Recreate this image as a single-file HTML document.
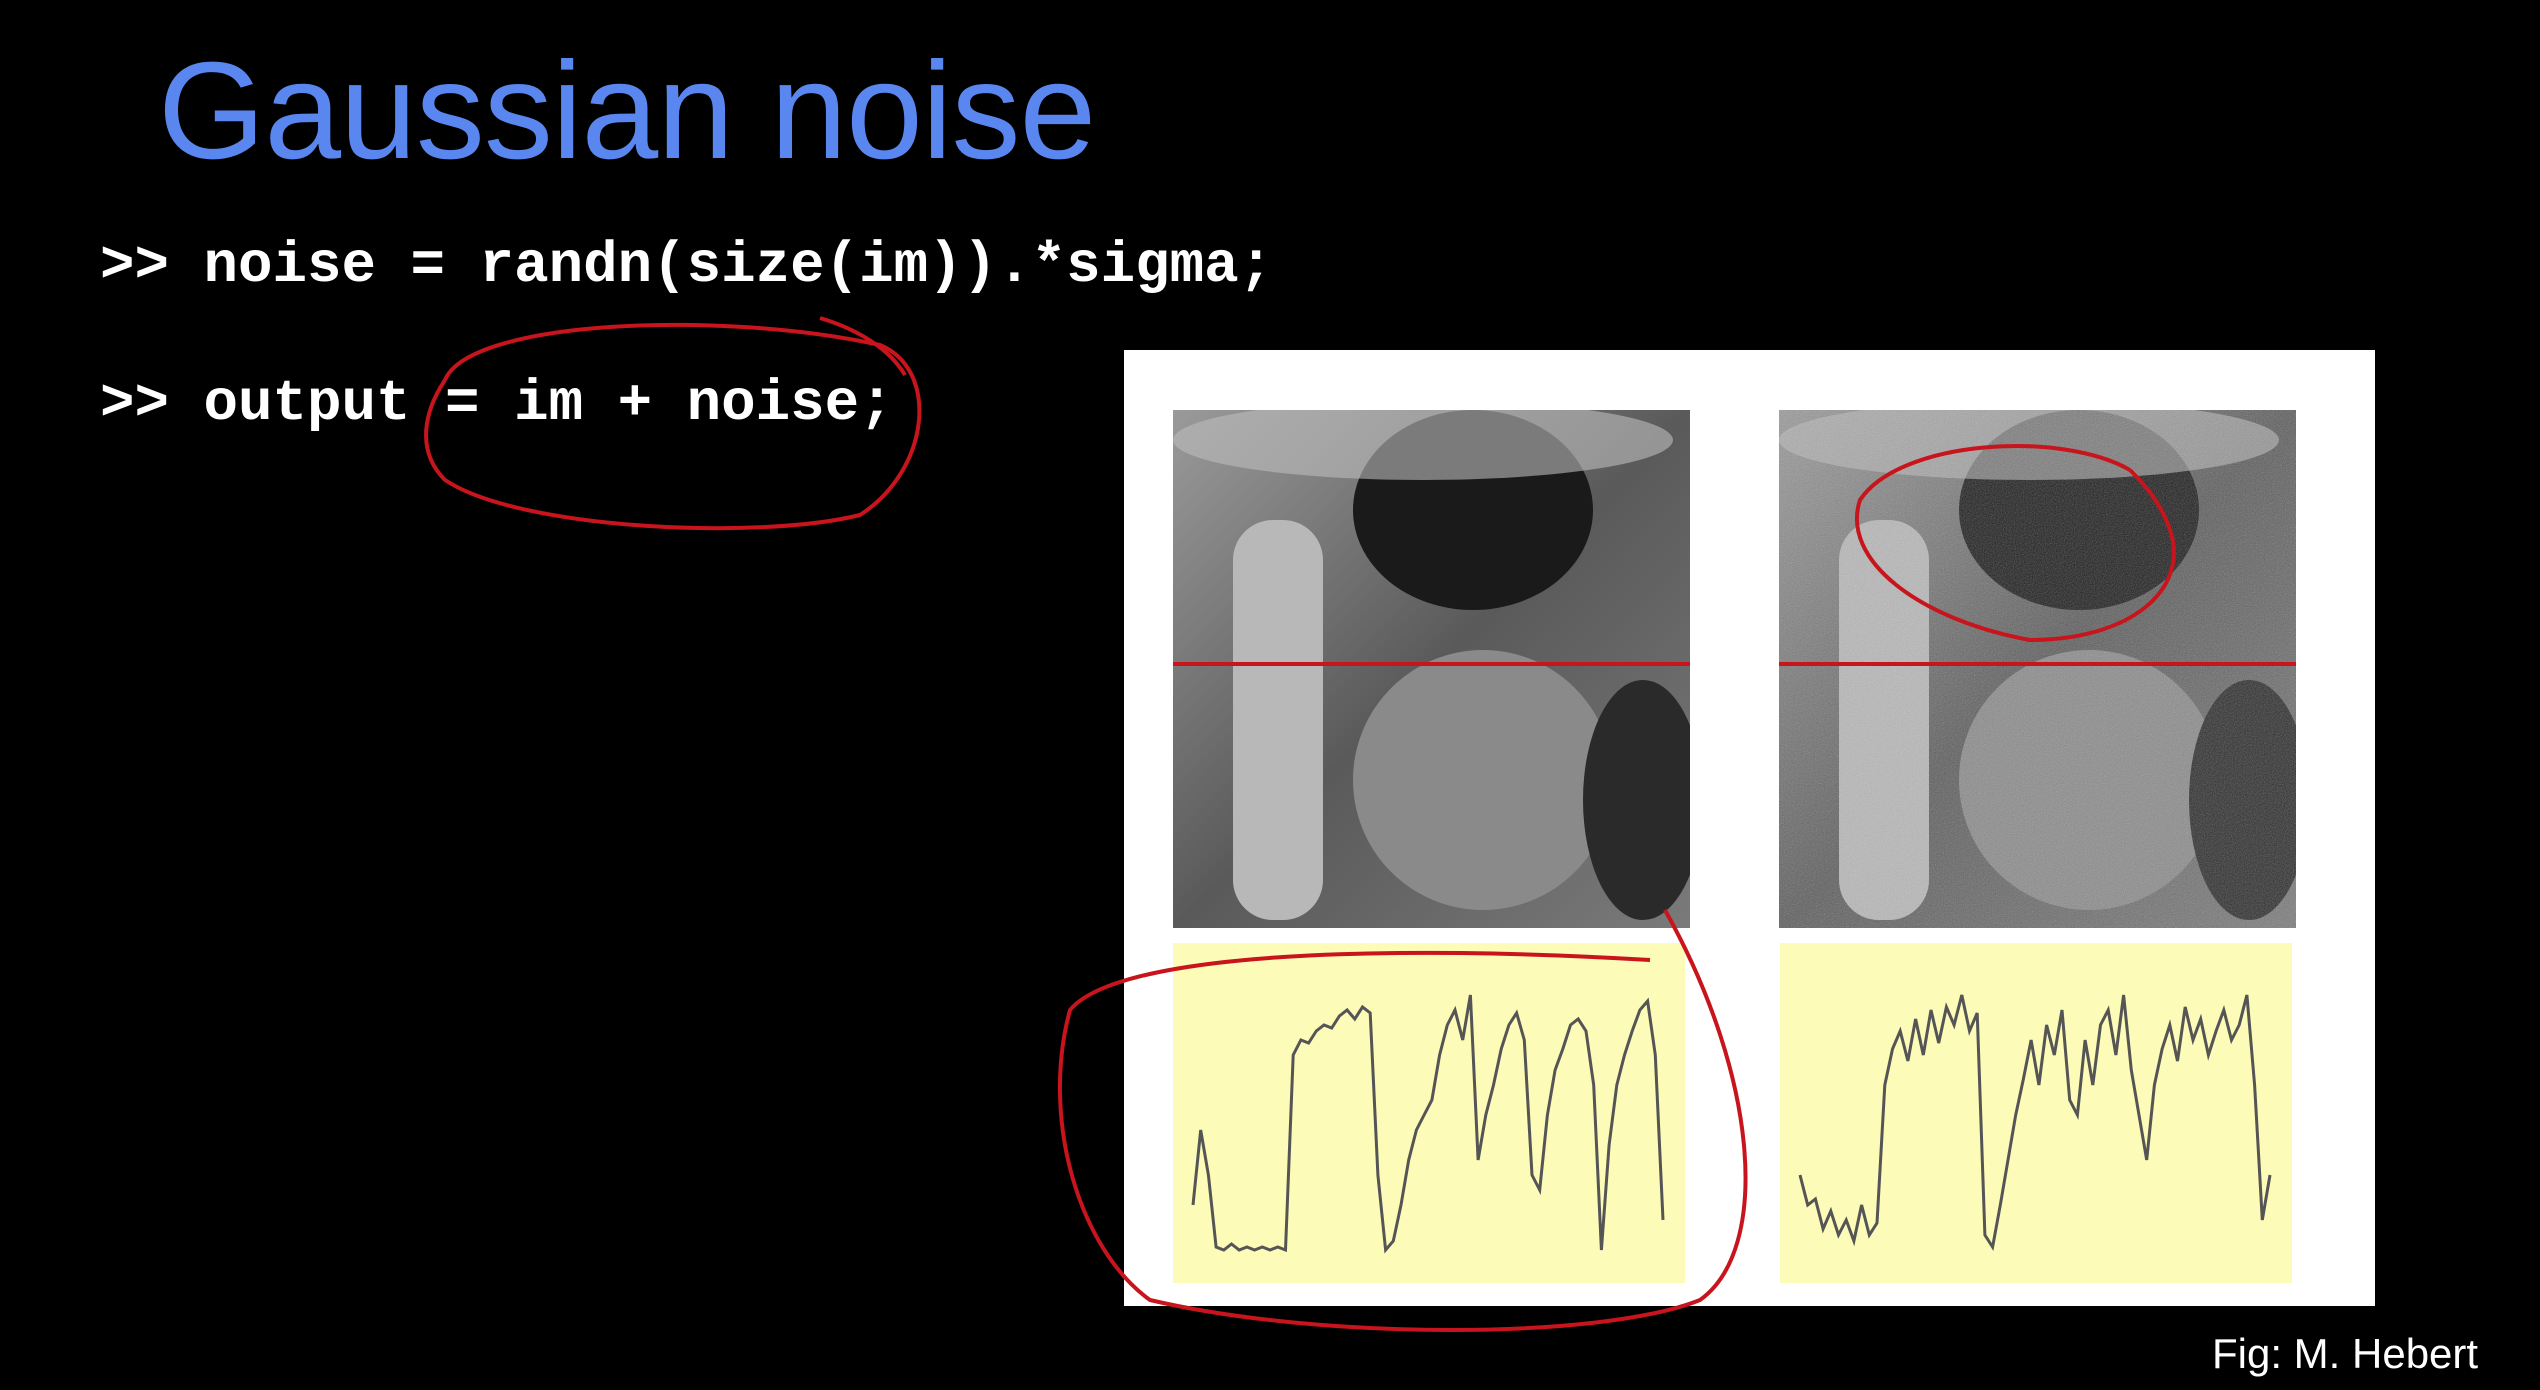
<!DOCTYPE html>
<html><head><meta charset="utf-8"><style>
html,body{margin:0;padding:0;background:#000;width:2540px;height:1390px;overflow:hidden;position:relative;font-family:"Liberation Sans",sans-serif}
.abs{position:absolute}
#title{left:158px;top:32px;font-size:138px;color:#5a87ef;white-space:nowrap;letter-spacing:-1px}
.code{font-family:"Liberation Mono",monospace;font-weight:bold;color:#fff;font-size:57.5px;white-space:pre;left:100px}
#credit{left:2212px;top:1330px;font-size:42px;color:#fff;white-space:nowrap}
</style></head><body>
<div id="title" class="abs">Gaussian noise</div>
<div class="abs code" style="top:234px">&gt;&gt; noise = randn(size(im)).*sigma;</div>
<div class="abs code" style="top:372px">&gt;&gt; output = im + noise;</div>
<div id="credit" class="abs">Fig: M. Hebert</div>
<svg class="abs" style="left:0;top:0" width="2540" height="1390">
<defs>
<linearGradient id="g1" x1="0" y1="0" x2="1" y2="1"><stop offset="0" stop-color="#9a9a9a"/><stop offset="0.5" stop-color="#5a5a5a"/><stop offset="1" stop-color="#7a7a7a"/></linearGradient>
<filter id="nz"><feTurbulence type="fractalNoise" baseFrequency="0.9" numOctaves="1"/><feColorMatrix type="saturate" values="0"/><feComponentTransfer><feFuncA type="table" tableValues="0 0.45"/></feComponentTransfer><feComposite in2="SourceGraphic" operator="in"/></filter>
<clipPath id="c1"><rect x="1173" y="410" width="517" height="518"/></clipPath>
<clipPath id="c2"><rect x="1779" y="410" width="517" height="518"/></clipPath>
</defs>
<rect x="1124" y="350" width="1251" height="956" fill="#fff"/>
<g id="imgs"></g>
<g id="plots"></g>
<g fill="none" stroke="#c8141c" stroke-width="4">
<path d="M445,380 C470,320 720,310 880,345 C940,370 930,470 860,515 C760,540 520,530 445,480 C415,450 425,410 445,380" />
<path d="M820,318 C860,330 890,350 905,375"/>
<path d="M1650,960 C1400,945 1120,950 1070,1010 C1040,1120 1080,1250 1150,1300 C1320,1340 1600,1340 1700,1300 C1770,1250 1760,1080 1665,910"/>
<path d="M2130,470 C2060,430 1900,440 1860,500 C1840,560 1920,620 2030,640 C2130,640 2190,590 2170,530 C2160,500 2140,480 2130,470"/>
</g>
</svg>
<script>
const leftSignal=[0.2,0.45,0.3,0.06,0.05,0.07,0.05,0.06,0.05,0.06,0.05,0.06,0.05,0.7,0.75,0.74,0.78,0.8,0.79,0.83,0.85,0.82,0.86,0.84,0.3,0.05,0.08,0.2,0.35,0.45,0.5,0.55,0.7,0.8,0.85,0.75,0.9,0.35,0.5,0.6,0.72,0.8,0.84,0.75,0.3,0.25,0.5,0.65,0.72,0.8,0.82,0.78,0.6,0.05,0.4,0.6,0.7,0.78,0.85,0.88,0.7,0.15];
const rightSignal=[0.3,0.2,0.22,0.12,0.18,0.1,0.15,0.08,0.2,0.1,0.14,0.6,0.72,0.78,0.68,0.82,0.7,0.85,0.74,0.86,0.8,0.9,0.78,0.84,0.1,0.06,0.2,0.35,0.5,0.62,0.75,0.6,0.8,0.7,0.85,0.55,0.5,0.75,0.6,0.8,0.85,0.7,0.9,0.65,0.5,0.35,0.6,0.72,0.8,0.68,0.86,0.75,0.82,0.7,0.78,0.85,0.75,0.8,0.9,0.6,0.15,0.3];
const NS="http://www.w3.org/2000/svg";
function mk(t,a,p){const e=document.createElementNS(NS,t);for(const k in a)e.setAttribute(k,a[k]);p.appendChild(e);return e;}
const imgs=document.getElementById('imgs'),plots=document.getElementById('plots');
[[1173,'original-image',false,'c1'],[1779,'noisy-image',true,'c2']].forEach(([x,n,noisy,c])=>{
  const g=mk('g',{'clip-path':'url(#'+c+')'},imgs);
  
  
  mk('rect',{x:x,y:410,width:517,height:518,fill:'url(#g1)'},g);
  mk('ellipse',{cx:x+300,cy:510,rx:120,ry:100,fill:'#1a1a1a'},g);
  mk('rect',{x:x+60,y:520,width:90,height:400,rx:40,fill:'#b8b8b8'},g);
  mk('ellipse',{cx:x+310,cy:780,rx:130,ry:130,fill:'#8a8a8a'},g);
  mk('ellipse',{cx:x+470,cy:800,rx:60,ry:120,fill:'#2a2a2a'},g);
  mk('ellipse',{cx:x+250,cy:440,rx:250,ry:40,fill:'#bdbdbd',opacity:0.6},g);
  if(noisy)mk('rect',{x:x,y:410,width:517,height:518,fill:'#fff',filter:'url(#nz)'},g);
  mk('line',{x1:x,y1:664,x2:x+517,y2:664,stroke:'#c8141c','stroke-width':4},g);
});
[[1173,leftSignal,'original-profile-plot'],[1780,rightSignal,'noisy-profile-plot']].forEach(([x,d,n])=>{
  const g=mk('g',{},plots);
  
  
  mk('rect',{x:x,y:943,width:512,height:340,fill:'#fdfbb8'},g);
  const x0=x+20,w=470,yb=1265,h=300;
  const pts=d.map((v,i)=>(x0+i*w/(d.length-1)).toFixed(1)+','+(yb-v*h).toFixed(1)).join(' ');
  const l=mk('polyline',{points:pts,fill:'none',stroke:'#555','stroke-width':3},g);
  
  
});
</script>
</body></html>
